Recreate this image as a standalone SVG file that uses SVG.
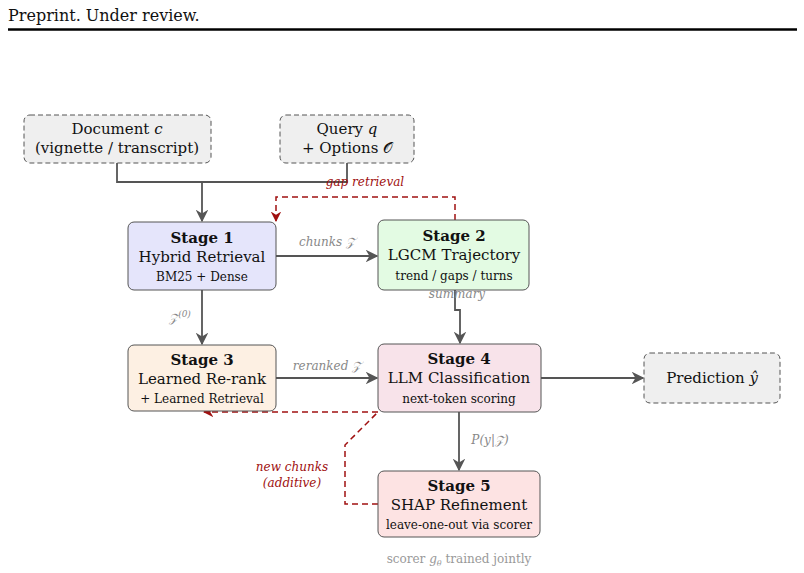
<svg xmlns="http://www.w3.org/2000/svg" width="804" height="573" viewBox="0 0 804 573">
<defs>
<style>
text{font-family:"DejaVu Serif","Liberation Serif",serif;}
.n rect{stroke:#555;stroke-width:1}
.t{font-size:15px;fill:#111;text-anchor:middle}
.b{font-size:15px;font-weight:bold;fill:#111;text-anchor:middle}
.s{font-size:12px;fill:#111;text-anchor:middle}
.e{fill:none;stroke:#555;stroke-width:1.8}
.r{fill:none;stroke:#a01010;stroke-width:1.5;stroke-dasharray:6,4}
.l{font-size:12px;font-style:italic;fill:#888;text-anchor:middle}
.rl{font-size:12px;font-style:italic;fill:#a01010;text-anchor:middle}
</style>
<marker id="a" viewBox="0 0 10 10" refX="9" refY="5" markerWidth="7" markerHeight="7" orient="auto"><path d="M0,0 L10,5 L0,10 L3,5 Z" fill="#555"/></marker>
<marker id="ar" viewBox="0 0 10 10" refX="9" refY="5" markerWidth="7" markerHeight="7" orient="auto"><path d="M0,0 L10,5 L0,10 L3,5 Z" fill="#a01010"/></marker>
</defs>
<rect width="804" height="573" fill="#fff"/>
<text x="8" y="21" font-size="16" font-family="Liberation Serif" fill="#111">Preprint. Under review.</text>
<line x1="8" y1="29.5" x2="797" y2="29.5" stroke="#000" stroke-width="2.5"/>
<g id="connectors">
<polyline class="e" points="117,163 117,182 347,182 347,163"/>
<line class="e" x1="202" y1="182" x2="202" y2="221" marker-end="url(#a)"/>
<polyline class="r" points="455,220 455,197 276,197 276,221" marker-end="url(#ar)"/>
<text class="rl" x="365" y="186">gap retrieval</text>
<line class="e" x1="276" y1="256" x2="377" y2="256" marker-end="url(#a)"/>
<text class="l" x="327" y="246">chunks 𝒵</text>
<line class="e" x1="202" y1="290" x2="202" y2="344" marker-end="url(#a)"/>
<text class="l" x="180" y="322">𝒵<tspan dy="-5" font-size="9">(0)</tspan></text>
<polyline class="e" points="455,290 455,310 460,310 460,343" marker-end="url(#a)"/>
<text class="l" x="457" y="298">summary</text>
<line class="e" x1="276" y1="378" x2="377" y2="378" marker-end="url(#a)"/>
<text class="l" x="327" y="370">reranked 𝒵</text>
<line class="e" x1="541" y1="378" x2="643" y2="378" marker-end="url(#a)"/>
<line class="e" x1="459" y1="412" x2="459" y2="470" marker-end="url(#a)"/>
<text class="l" x="490" y="444">P(y|𝒵)</text>
<polyline class="r" points="378,412 204,412" marker-end="url(#ar)"/>
<polyline class="r" points="378,504 345,504 345,445 378,412"/>
<text class="rl" x="292" y="471">new chunks</text>
<text class="rl" x="292" y="487">(additive)</text>
</g>
<g id="doc" class="n"><rect x="24" y="115" width="187" height="48" rx="6" fill="#efefef" stroke-dasharray="5,3"/>
<text class="t" x="117" y="134">Document <tspan font-style="italic">c</tspan></text><text class="t" x="117" y="153">(vignette / transcript)</text></g>
<g id="query" class="n"><rect x="280" y="115" width="134" height="48" rx="6" fill="#efefef" stroke-dasharray="5,3"/>
<text class="t" x="347" y="134">Query <tspan font-style="italic">q</tspan></text><text class="t" x="347" y="153">+ Options 𝒪</text></g>
<g id="stage1" class="n"><rect x="128" y="222" width="148" height="68" rx="6" fill="#e5e5fb"/>
<text class="b" x="202" y="243">Stage 1</text><text class="t" x="202" y="262">Hybrid Retrieval</text><text class="s" x="202" y="281">BM25 + Dense</text></g>
<g id="stage2" class="n"><rect x="378" y="220" width="151" height="70" rx="6" fill="#e3fbe3"/>
<text class="b" x="454" y="241">Stage 2</text><text class="t" x="454" y="260">LGCM Trajectory</text><text class="s" x="454" y="280">trend / gaps / turns</text></g>
<g id="stage3" class="n"><rect x="128" y="345" width="148" height="66" rx="6" fill="#fdf0e3"/>
<text class="b" x="202" y="365">Stage 3</text><text class="t" x="202" y="384">Learned Re-rank</text><text class="s" x="202" y="403">+ Learned Retrieval</text></g>
<g id="stage4" class="n"><rect x="378" y="344" width="163" height="68" rx="6" fill="#f8e3ea"/>
<text class="b" x="459" y="364">Stage 4</text><text class="t" x="459" y="383">LLM Classification</text><text class="s" x="459" y="403">next-token scoring</text></g>
<g id="prediction" class="n"><rect x="644" y="353" width="136" height="50" rx="6" fill="#efefef" stroke-dasharray="5,3"/>
<text class="t" x="712" y="383">Prediction <tspan font-style="italic">ŷ</tspan></text></g>
<g id="stage5" class="n"><rect x="378" y="471" width="162" height="66" rx="6" fill="#fde3e3"/>
<text class="b" x="459" y="491">Stage 5</text><text class="t" x="459" y="510">SHAP Refinement</text><text class="s" x="459" y="529">leave-one-out via scorer</text></g>
<text x="459" y="563" font-size="12" fill="#999" text-anchor="middle">scorer <tspan font-style="italic">g</tspan><tspan font-style="italic" font-size="8" dy="3">θ</tspan><tspan dy="-3"> trained jointly</tspan></text>
</svg>
